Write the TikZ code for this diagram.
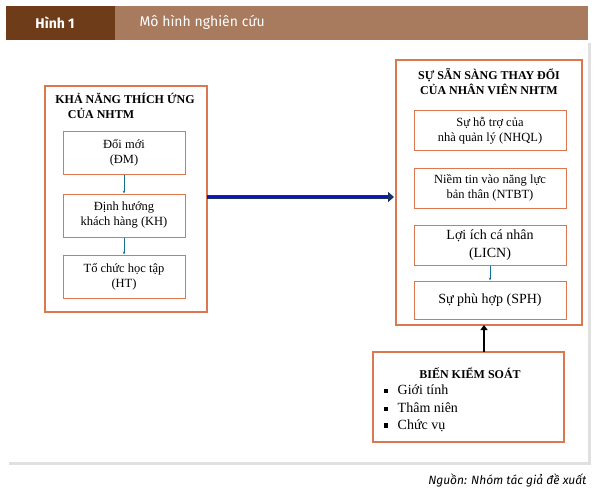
\documentclass[tikz,border=0pt]{standalone}
\usepackage{fontspec}
\setmainfont{Liberation Serif}
\newfontfamily\headfont{Fira Sans}
\usetikzlibrary{positioning,arrows.meta}
\definecolor{headdark}{RGB}{110,60,25}
\definecolor{headlight}{RGB}{168,122,94}
\definecolor{boxline}{RGB}{220,120,80}
\definecolor{navy}{RGB}{25,50,95}
\newcommand{\bulsq}{\rule[0.15em]{0.3em}{0.3em}}
\tikzset{
  outerbox/.style={draw=boxline, line width=1.2pt},
  innerbox/.style={draw=boxline, line width=1pt, minimum width=122pt, align=center, font=\fontsize{12.5}{15}\selectfont},
  titletext/.style={font=\bfseries\fontsize{12}{15}\selectfont, align=center},
  smallarrow/.style={-{Stealth[length=3pt]}, draw=navy!70!cyan, thin},
}
\begin{document}
\begin{tikzpicture}[x=1pt,y=-1pt]
  \useasboundingbox (0,0) rectangle (604,497);
  % card and header
  \fill[black!12] (9,43) rectangle (591,465);
  \fill[white] (6,40) rectangle (588,462);
  \fill[headlight] (6,6) rectangle (588,40);
  \fill[headdark] (6,6) rectangle (115,40);
  \node[text=white, font=\headfont\bfseries\fontsize{14}{16}\selectfont] (hinh) at (55,23) {Hình 1};
  \node[text=white, font=\headfont\fontsize{14}{16}\selectfont, anchor=west] (tieude) at (136,22) {Mô hình nghiên cứu};
  % left block
  \draw[outerbox] (45,86) rectangle (207,312);
  \coordinate (lefteast) at (207,197);
  \node[titletext] (kntu) at (125,106) {KHẢ NĂNG THÍCH ỨNG\\\hspace*{-4em}CỦA NHTM};
  \node[innerbox, minimum height=42pt] (dm) at (124,153) {Đổi mới\\(ĐM)};
  \node[innerbox, minimum height=43pt, below=19pt of dm] (kh) {Định hướng\\khách hàng (KH)};
  \node[innerbox, minimum height=43pt, below=17pt of kh] (ht) {Tổ chức học tập\\(HT)};
  \draw[smallarrow] (dm) -- (kh);
  \draw[smallarrow] (kh) -- (ht);
  % right block
  \draw[outerbox] (396,60) rectangle (582,325);
  \coordinate (rightwest) at (394,197);
  \coordinate (rightsouth) at (484,325);
  \node[titletext] (sst) at (489,82) {SỰ SẴN SÀNG THAY ĐỔI\\CỦA NHÂN VIÊN NHTM};
  \node[innerbox, minimum width=152pt, minimum height=40pt] (nhql) at (490,131) {Sự hỗ trợ của\\nhà quản lý (NHQL)};
  \node[innerbox, minimum width=152pt, minimum height=40pt, below=16pt of nhql] (ntbt) {Niềm tin vào năng lực\\bản thân (NTBT)};
  \node[innerbox, minimum width=152pt, minimum height=40pt, below=16pt of ntbt, font=\fontsize{14}{18}\selectfont] (licn) {Lợi ích cá nhân\\(LICN)};
  \node[innerbox, minimum width=152pt, minimum height=38pt, below=15pt of licn, font=\fontsize{14}{16}\selectfont] (sph) {Sự phù hợp (SPH)};
  \draw[smallarrow] (licn) -- (sph);
  % main arrow
  \draw[navy, line width=4pt, -{Triangle[length=6pt,width=10pt]}] (lefteast) -- (rightwest);
  \draw[blue!60!navy, line width=1.2pt, shorten >=6pt] (lefteast) -- (rightwest);
  % control block
  \draw[outerbox] (373,352) rectangle (564,442);
  \coordinate (ctrlnorth) at (484,352);
  \node[titletext] (bks) at (470,373) {BIẾN KIỂM SOÁT};
  \node[anchor=west, font=\fontsize{14}{16}\selectfont] (gt) at (380,390) {\bulsq\hspace{10pt}Giới tính};
  \node[anchor=west, font=\fontsize{14}{16}\selectfont] (tn) at (380,408) {\bulsq\hspace{10pt}Thâm niên};
  \node[anchor=west, font=\fontsize{14}{16}\selectfont] (cv) at (380,426) {\bulsq\hspace{10pt}Chức vụ};
  \draw[black, line width=2.5pt, -{Triangle[length=5pt,width=7pt]}] (ctrlnorth) -- (rightsouth);
  % source
  \node[anchor=east, font=\headfont\itshape\fontsize{12}{14}\selectfont] (nguon) at (590,480) {Nguồn: Nhóm tác giả đề xuất};
\end{tikzpicture}
\end{document}
